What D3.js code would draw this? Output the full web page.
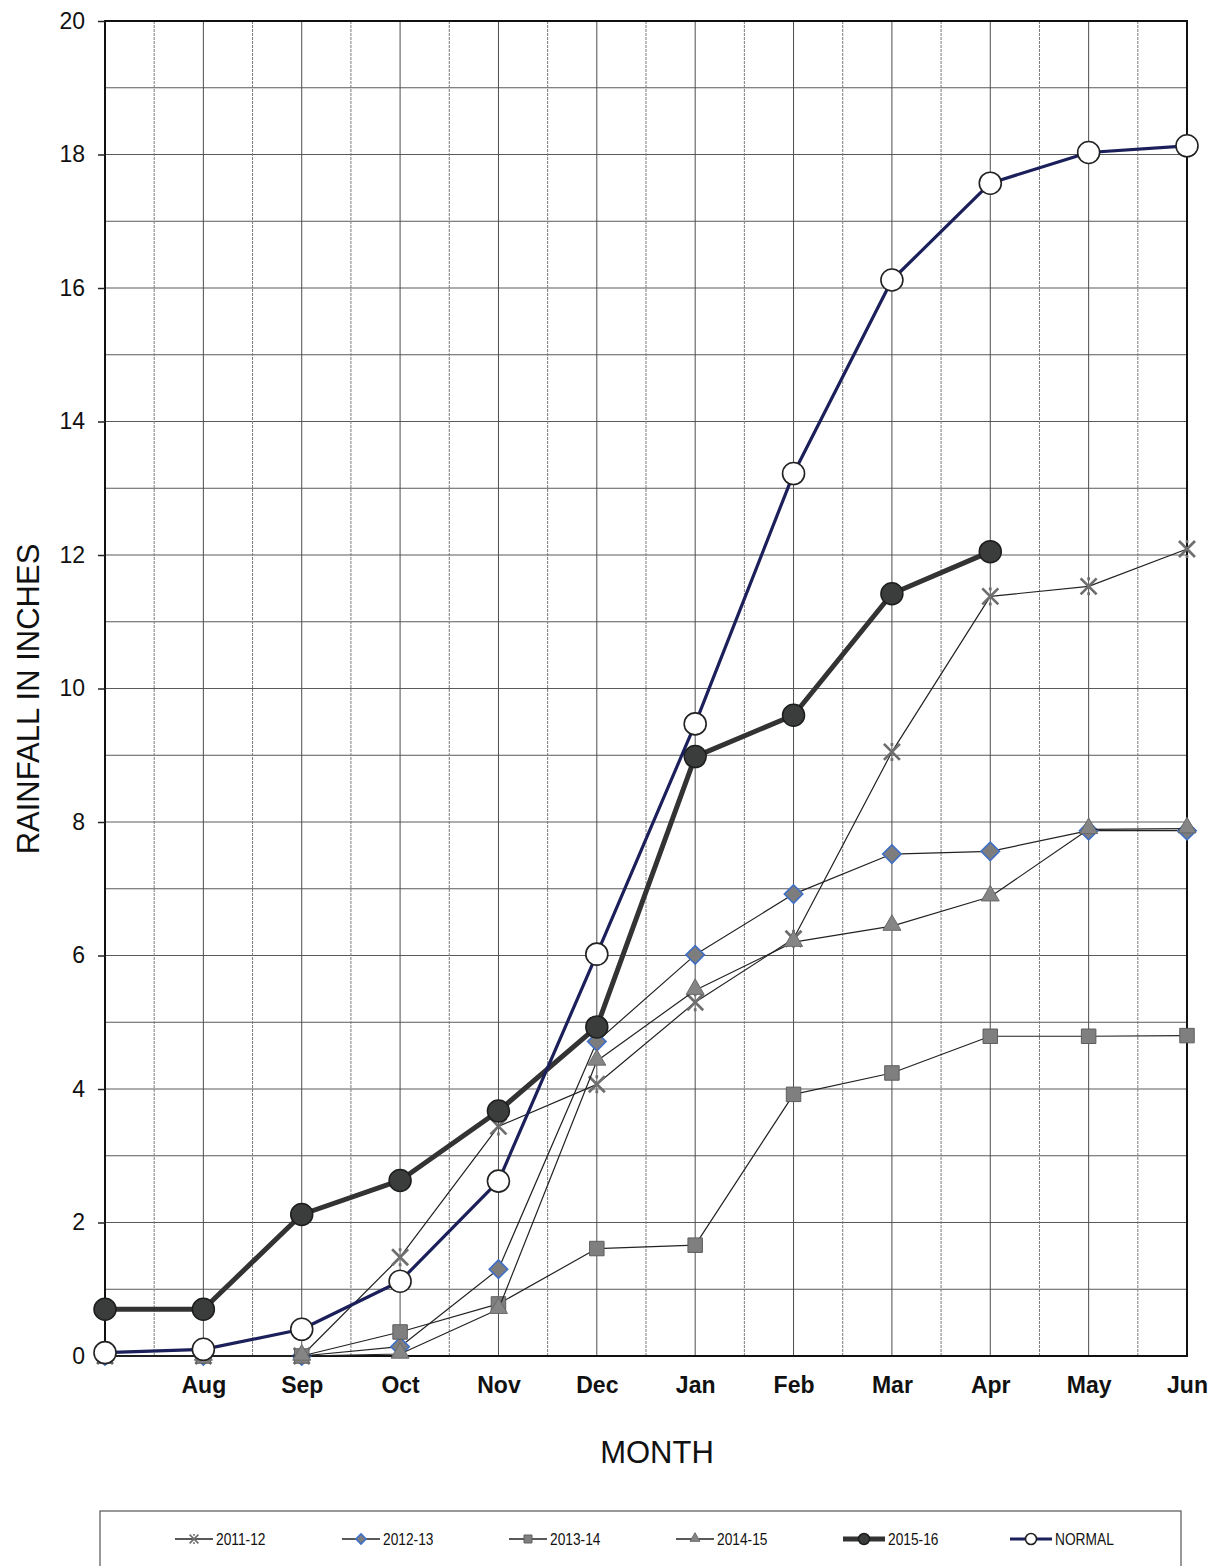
<!DOCTYPE html>
<html>
<head>
<meta charset="utf-8">
<script src="https://cdn.jsdelivr.net/npm/d3@7"></script>
<style>
	body { margin: 0; background: #fff; }
	svg { display: block; font-family: "Liberation Sans", Arial, sans-serif; }
	.grid-major { stroke: #4d4d4d; stroke-width: 1; }
	.grid-minor { stroke: #7a7a7a; stroke-width: 1; stroke-dasharray: 3,1; }
	.grid-h { stroke: #5a5a5a; stroke-width: 1; }
	.y-axis text { font-size: 23px; fill: #111; }
	.x-axis text { font-size: 23px; font-weight: bold; fill: #111; }
	.axis line { stroke: #222; stroke-width: 1.5; }
	.legend-text { font-family: "Liberation Sans", Arial, sans-serif; font-size: 16px; fill: #111; }
</style>
</head>
<body>
<div id="chart-div"></div>
<script>
//Chart data
var months = ["Jul","Aug","Sep","Oct","Nov","Dec","Jan","Feb","Mar","Apr","May","Jun"];
var monthLabels = ["","Aug","Sep","Oct","Nov","Dec","Jan","Feb","Mar","Apr","May","Jun"];
var seasons = ["2011-12","2012-13","2013-14","2014-15","2015-16","NORMAL"];
var yTicks = [0,2,4,6,8,10,12,14,16,18,20];

var rain2011 = [0,0,0,1.48,3.44,4.07,5.30,6.25,9.05,11.38,11.53,12.09];
var rain2012 = [0,0,0,0.14,1.30,4.71,6.01,6.92,7.52,7.56,7.87,7.87];
var rain2013 = [0,0,0,0.36,0.78,1.61,1.66,3.92,4.24,4.79,4.79,4.80];
var rain2014 = [0,0,0,0.03,0.70,4.42,5.48,6.20,6.44,6.88,7.89,7.90];
var rain2015 = [0.70,0.70,2.12,2.63,3.67,4.93,8.98,9.60,11.42,12.05];
var rainNormal = [0.05,0.10,0.40,1.12,2.62,6.02,9.47,13.22,16.12,17.57,18.03,18.13];

//Canvas size and plot box
var W = 1211, H = 1566;
var margin = {top: 21, right: 24, bottom: 210, left: 105},
	w = W - margin.left - margin.right,
	h = H - margin.top - margin.bottom;

//Scales
var xScale = d3.scalePoint().domain(months).range([0, w]);
var step = xScale.step();
var yScale = d3.scaleLinear().domain([0, 20]).range([h, 0]);

//Styles for each season (kept apart from the values)
var styles = {
	"2011-12": {line: "#222", width: 1.2, marker: "star"},
	"2012-13": {line: "#222", width: 1.2, marker: "diamond"},
	"2013-14": {line: "#222", width: 1.2, marker: "square"},
	"2014-15": {line: "#222", width: 1.2, marker: "triangle"},
	"2015-16": {line: "#333", width: 5, marker: "dot"},
	"NORMAL": {line: "#1b1f5a", width: 3.2, marker: "open"}
};

var values = [rain2011, rain2012, rain2013, rain2014, rain2015, rainNormal];
var series = seasons.map(function(s, i) {
	return {
		name: s,
		points: values[i].map(function(v, j) { return {month: months[j], value: v}; })
	};
});

var svg = d3.select("#chart-div")
	.append("svg")
	.attr("width", W)
	.attr("height", H);

var g = svg.append("g")
	.attr("transform", "translate(" + margin.left + "," + margin.top + ")");

//Grid - horizontal every inch
g.append("g").selectAll("line")
	.data(d3.range(1, 20))
	.enter().append("line")
	.attr("class", "grid-h")
	.attr("x1", 0).attr("x2", w)
	.attr("y1", function(d) { return yScale(d); })
	.attr("y2", function(d) { return yScale(d); });

//Grid - vertical every month and half month
g.append("g").selectAll("line")
	.data(months.slice(1))
	.enter().append("line")
	.attr("class", "grid-major")
	.attr("y1", 0).attr("y2", h)
	.attr("x1", function(d) { return xScale(d); })
	.attr("x2", function(d) { return xScale(d); });

g.append("g").selectAll("line")
	.data(months.slice(0, -1))
	.enter().append("line")
	.attr("class", "grid-minor")
	.attr("y1", 0).attr("y2", h)
	.attr("x1", function(d) { return xScale(d) + step / 2; })
	.attr("x2", function(d) { return xScale(d) + step / 2; });

//Plot frame
g.append("rect")
	.attr("width", w).attr("height", h)
	.attr("fill", "none")
	.attr("stroke", "#111")
	.attr("stroke-width", 2);

//Axes
var yAxis = d3.axisLeft(yScale).tickValues(yTicks).tickSize(7).tickPadding(13);
g.append("g").attr("class", "axis y-axis").call(yAxis)
	.call(function(a) { a.select(".domain").remove(); });

var xAxis = d3.axisBottom(xScale).tickSize(0).tickPadding(21)
	.tickFormat(function(d, i) { return monthLabels[i]; });
g.append("g").attr("class", "axis x-axis")
	.attr("transform", "translate(0," + h + ")")
	.call(xAxis)
	.call(function(a) { a.select(".domain").remove(); });

//Axis titles
svg.append("text")
	.attr("x", 657).attr("y", 1463)
	.attr("text-anchor", "middle")
	.style("font-size", "31px").style("fill", "#111")
	.text("MONTH");

svg.append("text")
	.attr("transform", "translate(39,699) rotate(-90)")
	.attr("text-anchor", "middle")
	.style("font-size", "31px").style("fill", "#111")
	.text("RAINFALL IN INCHES");

//Marker drawing helper
function drawMarker(sel, type, k) {
	//k scales the marker (1 on the plot, smaller in the legend)
	if (type === "star") {
		var a = 8 * k, b = 9 * k;
		sel.append("path")
			.attr("d", "M" + (-a) + "," + (-a) + "L" + a + "," + a + "M" + (-a) + "," + a + "L" + a + "," + (-a) + "M0," + (-b) + "L0," + (-b + 3 * k) + "M0," + (b - 3 * k) + "L0," + b)
			.attr("stroke", "#6e6e6e").attr("stroke-width", 2.4 * k + 0.3).attr("fill", "none");
	} else if (type === "diamond") {
		sel.append("path")
			.attr("d", d3.symbol(d3.symbolSquare, 170 * k * k))
			.attr("transform", "rotate(45)")
			.attr("fill", "#7d7d7d").attr("stroke", "#3f6fc6").attr("stroke-width", 1.6);
	} else if (type === "square") {
		sel.append("path")
			.attr("d", d3.symbol(d3.symbolSquare, 210 * k * k))
			.attr("fill", "#7f7f7f").attr("stroke", "#5e5e5e").attr("stroke-width", 1);
	} else if (type === "triangle") {
		sel.append("path")
			.attr("d", d3.symbol(d3.symbolTriangle, 140 * k * k))
			.attr("transform", "translate(0," + (-1 * k) + ")")
			.attr("fill", "#858585").attr("stroke", "#6a6a6a").attr("stroke-width", 1);
	} else if (type === "dot") {
		sel.append("circle").attr("r", 11 * k)
			.attr("fill", "#3b3d3d").attr("stroke", "#1d1d1d").attr("stroke-width", 1.5);
	} else if (type === "open") {
		sel.append("circle").attr("r", 11 * k)
			.attr("fill", "#fff").attr("stroke", "#222").attr("stroke-width", 1.6);
	}
}

//Lines and markers per season
var rainLine = d3.line()
	.x(function(d) { return xScale(d.month); })
	.y(function(d) { return yScale(d.value); });

series.forEach(function(s) {
	var st = styles[s.name];
	var sg = g.append("g").attr("class", "series");
	sg.append("path")
		.datum(s.points)
		.attr("d", rainLine)
		.attr("fill", "none")
		.attr("stroke", st.line)
		.attr("stroke-width", st.width)
		.attr("stroke-linejoin", "round");
	sg.selectAll("g.mk")
		.data(s.points)
		.enter().append("g")
		.attr("class", "mk")
		.attr("transform", function(d) { return "translate(" + xScale(d.month) + "," + yScale(d.value) + ")"; })
		.each(function() { drawMarker(d3.select(this), st.marker, 1); });
});

//Legend
var legend = svg.append("g").attr("class", "legend");
legend.append("rect")
	.attr("x", 100).attr("y", 1511)
	.attr("width", 1081).attr("height", 70)
	.attr("fill", "#fff")
	.attr("stroke", "#555").attr("stroke-width", 1.2);

var legendX = d3.scalePoint().domain(seasons).range([175, 1010]);

seasons.forEach(function(s) {
	var st = styles[s];
	var x0 = legendX(s);
	var lw = (s === "2015-16" || s === "NORMAL") ? 42 : 38;
	var item = legend.append("g").attr("transform", "translate(" + x0 + ",1539)");
	item.append("line")
		.attr("x1", 0).attr("x2", lw)
		.attr("stroke", st.line)
		.attr("stroke-width", st.width === 1.2 ? 1.3 : st.width);
	var mk = item.append("g").attr("transform", "translate(" + (lw / 2) + ",0)");
	drawMarker(mk, st.marker, st.marker === "dot" || st.marker === "open" ? 0.5 : 0.55);
	//narrow face in the original: squeeze the text horizontally
	item.append("text")
		.attr("class", "legend-text")
		.attr("transform", "translate(" + (lw + 3) + ",0) scale(0.86,1)")
		.attr("dy", "0.35em")
		.text(s);
});
</script>
</body>
</html>
